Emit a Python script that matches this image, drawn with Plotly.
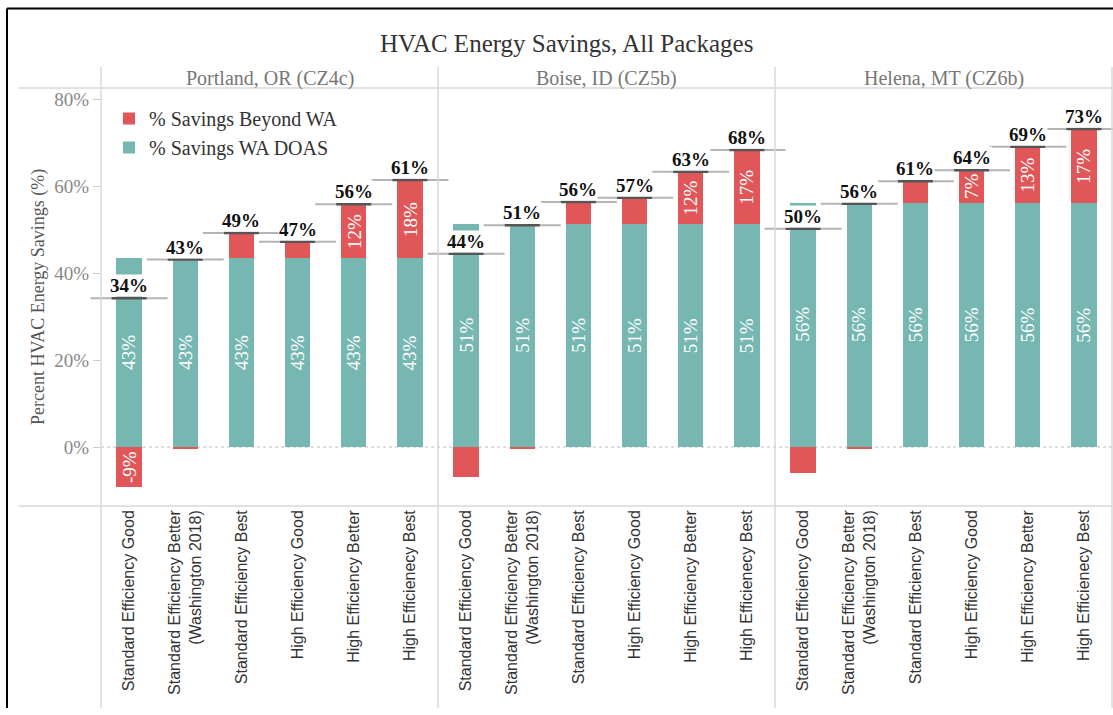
import plotly.graph_objects as go

W, H = 1113, 715

def px(x):
    return x / W

def py(y):
    return 1 - y / H

# ---------------- data ----------------
cities = ["Portland, OR (CZ4c)", "Boise, ID (CZ5b)", "Helena, MT (CZ6b)"]
packages = [
    "Standard Efficiency Good",
    "Standard Efficiency Better<br>(Washington 2018)",
    "Standard Efficiency Best",
    "High Efficiency Good",
    "High Efficiency Better",
    "High Efficienecy Best",
]
doas_portland = [43.4, 43.4, 43.4, 43.4, 43.4, 43.4]
doas_boise = [51.3, 51.3, 51.3, 51.3, 51.3, 51.3]
doas_helena = [56.2, 56.2, 56.2, 56.2, 56.2, 56.2]
beyond_portland = [-9.2, -0.3, 5.8, 3.8, 12.4, 18.0]
beyond_boise = [-6.9, -0.3, 5.0, 6.0, 12.0, 17.0]
beyond_helena = [-6.0, -0.3, 4.9, 7.4, 12.8, 16.9]
y_ticks = [0, 20, 40, 60, 80]
y_tick_labels = ["0%", "20%", "40%", "60%", "80%"]

doas = [doas_portland, doas_boise, doas_helena]
beyond = [beyond_portland, beyond_boise, beyond_helena]

TEAL = "#76B7B2"
RED = "#E15759"
FONT = "Liberation Serif"
SANS = "Liberation Sans"
LABEL_MIN = 7.2  # segments smaller than this get no inner label

fig = go.Figure()
annotations = []

axis_names = ["x", "x2", "x3"]
panel_px = [(101, 438), (438, 775), (775, 1112)]

for i, city in enumerate(cities):
    xa = axis_names[i]
    d = doas[i]
    b = beyond[i]
    totals = [a + c for a, c in zip(d, b)]
    fig.add_trace(go.Bar(
        x=packages, y=d, xaxis=xa, yaxis="y", width=0.45,
        marker=dict(color=TEAL, line=dict(width=0)),
        name="% Savings WA DOAS", legendrank=2, showlegend=(i == 0),
        hoverinfo="skip",
    ))
    fig.add_trace(go.Bar(
        x=packages, y=b, xaxis=xa, yaxis="y", width=0.45,
        marker=dict(color=RED, line=dict(width=0)),
        name="% Savings Beyond WA", legendrank=1, showlegend=(i == 0),
        hoverinfo="skip",
    ))
    # total reference lines
    fig.add_trace(go.Scatter(
        x=packages, y=totals, xaxis=xa, yaxis="y", mode="markers",
        marker=dict(symbol="line-ew", size=55, line=dict(width=2, color="#b4b4b4")),
        showlegend=False, hoverinfo="skip", cliponaxis=False,
    ))
    fig.add_trace(go.Scatter(
        x=packages, y=totals, xaxis=xa, yaxis="y", mode="markers",
        marker=dict(symbol="line-ew", size=25, line=dict(width=2.5, color="#555555")),
        showlegend=False, hoverinfo="skip", cliponaxis=False,
    ))
    for k, pkg in enumerate(packages):
        # inner DOAS label
        annotations.append(dict(
            x=pkg, y=d[k] / 2, xref=xa, yref="y", text=f"{round(d[k])}%",
            textangle=-90, showarrow=False,
            font=dict(family=FONT, size=19, color="white"),
        ))
        if abs(b[k]) >= LABEL_MIN:
            mid = d[k] + b[k] / 2 if b[k] > 0 else b[k] / 2
            annotations.append(dict(
                x=pkg, y=mid, xref=xa, yref="y", text=f"{round(b[k])}%",
                textangle=-90, showarrow=False,
                font=dict(family=FONT, size=19, color="white"),
            ))
        # total label
        annotations.append(dict(
            x=pkg, y=totals[k], xref=xa, yref="y", text=f"<b>{round(totals[k])}%</b>",
            showarrow=False, yanchor="bottom", yshift=1, bgcolor="white", borderpad=0,
            font=dict(family=FONT, size=19, color="#111111"),
        ))
    # panel header
    annotations.append(dict(
        x=px((panel_px[i][0] + panel_px[i][1]) / 2), y=py(78), xref="paper", yref="paper",
        text=city, showarrow=False, xanchor="center", yanchor="middle",
        font=dict(family=FONT, size=20, color="#777777"),
    ))

# title and y-axis title
annotations.append(dict(
    x=px(566), y=py(43), xref="paper", yref="paper", text="HVAC Energy Savings, All Packages",
    showarrow=False, xanchor="center", yanchor="middle",
    font=dict(family=FONT, size=25, color="#333333"),
))
annotations.append(dict(
    x=px(38), y=py(297), xref="paper", yref="paper", text="Percent HVAC Energy Savings (%)",
    showarrow=False, xanchor="center", yanchor="middle", textangle=-90,
    font=dict(family=FONT, size=18, color="#555555"),
))

GRID = "#d9d9d9"
shapes = []
# horizontal frame lines
for yy in (88, 506):
    shapes.append(dict(type="line", xref="paper", yref="paper",
                       x0=px(19), x1=px(1112), y0=py(yy), y1=py(yy),
                       line=dict(color=GRID, width=1.5)))
# vertical panel separators
for xx in (101, 438, 775, 1112):
    shapes.append(dict(type="line", xref="paper", yref="paper",
                       x0=px(xx), x1=px(xx), y0=py(67), y1=py(708),
                       line=dict(color=GRID, width=1.5)))
# dotted zero line
shapes.append(dict(type="line", xref="paper", yref="y",
                   x0=px(101), x1=px(1112), y0=0, y1=0,
                   line=dict(color="#bbbbbb", width=1, dash="dot"), layer="below"))
# outer border (left and top)
shapes.append(dict(type="line", xref="paper", yref="paper",
                   x0=px(7), x1=px(1113), y0=py(8.5), y1=py(8.5),
                   line=dict(color="black", width=2)))
shapes.append(dict(type="line", xref="paper", yref="paper",
                   x0=px(7), x1=px(7), y0=py(8.5), y1=py(708),
                   line=dict(color="black", width=2)))

xcommon = dict(
    showgrid=False, showline=False, zeroline=False, ticks="",
    tickangle=-90, tickfont=dict(family=SANS, size=16, color="#333333"),
    anchor="y", fixedrange=True, range=[-0.5, len(packages) - 0.5],
)

fig.update_layout(
    width=W, height=H,
    margin=dict(l=0, r=0, t=0, b=0),
    paper_bgcolor="white", plot_bgcolor="white",
    barmode="relative", bargap=0,
    font=dict(family=FONT),
    showlegend=True,
    legend=dict(
        x=px(109), y=py(99), xanchor="left", yanchor="top",
        bgcolor="rgba(0,0,0,0)", font=dict(family=FONT, size=20, color="#333333"),
        itemsizing="constant", tracegroupgap=0,
    ),
    xaxis=dict(domain=[px(101), px(438)], **xcommon),
    xaxis2=dict(domain=[px(438), px(775)], **xcommon),
    xaxis3=dict(domain=[px(775), px(1112)], **xcommon),
    yaxis=dict(
        domain=[py(506), py(88)], range=[-13.56, 82.53],
        tickmode="array", tickvals=y_ticks, ticktext=y_tick_labels,
        ticks="outside", ticklen=7, tickcolor="#cccccc",
        tickfont=dict(family=FONT, size=19, color="#888888"),
        showgrid=False, zeroline=False, showline=False, anchor="x", fixedrange=True,
    ),
    annotations=annotations,
    shapes=shapes,
)

fig.write_html("out.html", config={"displayModeBar": False},
               post_script="document.body.style.margin='0';")
